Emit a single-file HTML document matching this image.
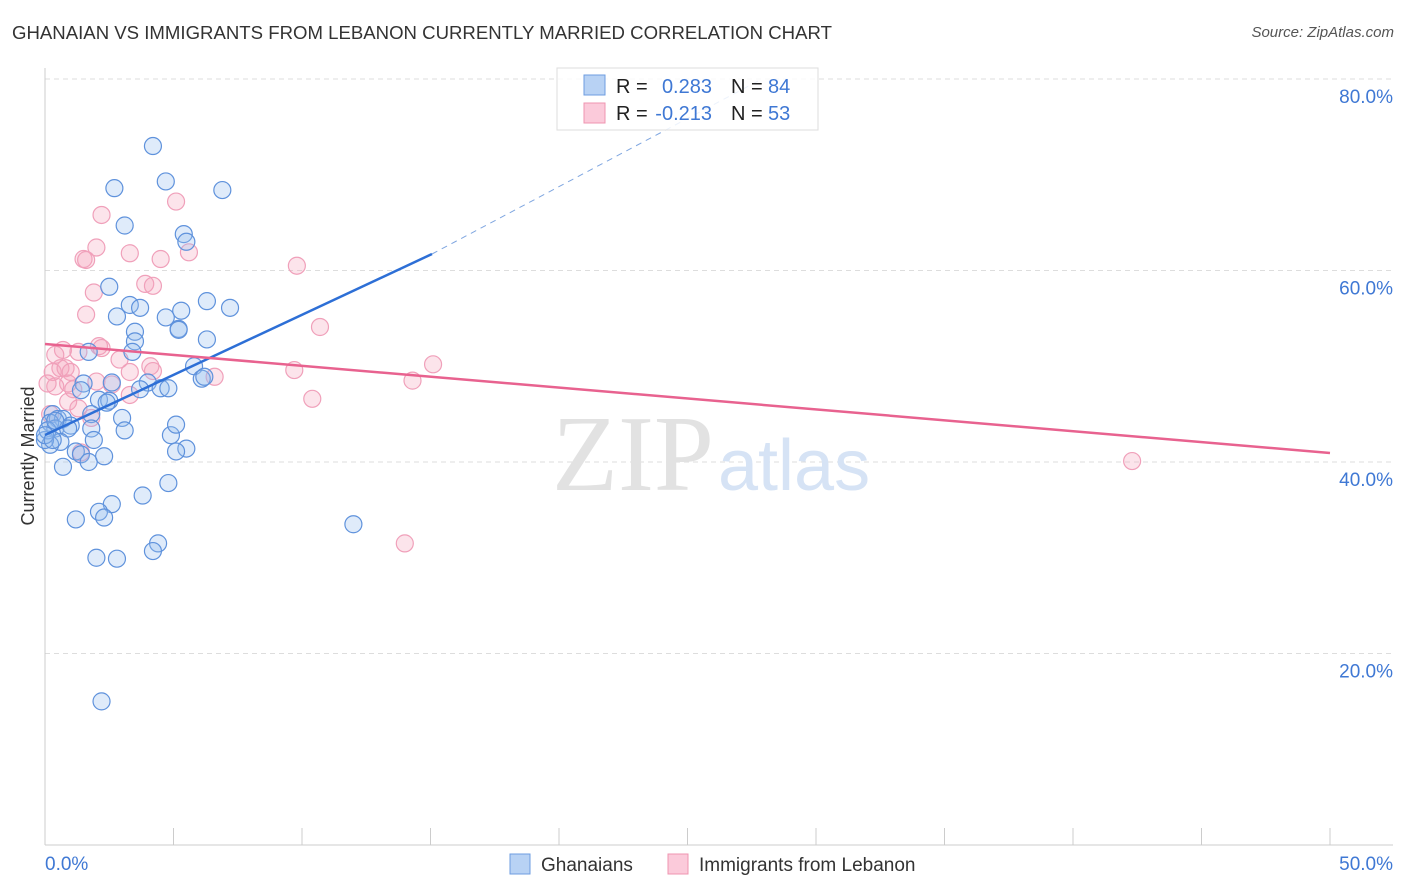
<!DOCTYPE html>
<html><head><meta charset="utf-8"><style>
body{margin:0;background:#fff;font-family:"Liberation Sans",sans-serif}
#wrap{position:relative;width:1406px;height:892px;overflow:hidden}
.t{position:absolute;white-space:nowrap}
</style></head><body>
<div id="wrap">
<div class="t" style="left:12px;top:22px;font-size:18.6px;color:#333">GHANAIAN VS IMMIGRANTS FROM LEBANON CURRENTLY MARRIED CORRELATION CHART</div>
<div class="t" style="right:12px;top:24px;font-size:15px;color:#555;font-style:italic">Source: ZipAtlas.com</div>
<svg id="svg" width="1406" height="892" style="position:absolute;left:0;top:0"></svg>
</div>
<script>
const xTicks=[0,5,10,15,20,25,30,35,40,45,50];
const yGrid=[20,40,60,80];
const yLabels=["20.0%","40.0%","60.0%","80.0%"];
const ghX=[4.2,4.7,2.7,6.9,3.1,5.4,5.5,2.5,3.3,6.3,7.2,2.8,3.7,5.3,4.7,5.2,3.5,5.2,6.3,3.5,3.4,1.7,5.8,6.1,6.2,4.0,3.7,4.5,4.8,1.5,2.6,1.4,2.1,2.5,2.4,1.8,3.0,0.3,0.5,0.7,0.2,0.4,1.0,0.9,1.8,3.1,4.9,5.1,1.9,0.6,0.2,1.2,1.4,2.3,5.5,5.1,1.7,0.7,0.0,0.1,4.8,3.8,2.6,2.1,2.3,1.2,12.0,4.4,4.2,2.0,2.8,2.2,0.0,0.3,0.4];
const ghY=[73.0,69.3,68.6,68.4,64.7,63.8,63.0,58.3,56.4,56.8,56.1,55.2,56.1,55.8,55.1,53.9,53.6,53.8,52.8,52.6,51.5,51.5,50.0,48.7,48.9,48.3,47.6,47.7,47.7,48.2,48.3,47.5,46.5,46.4,46.2,45.0,44.6,45.0,44.5,44.5,44.1,43.5,43.8,43.5,43.5,43.3,42.8,43.9,42.3,42.1,41.8,41.1,40.8,40.6,41.4,41.1,40.0,39.5,42.3,43.3,37.8,36.5,35.6,34.8,34.2,34.0,33.5,31.5,30.7,30.0,29.9,15.0,42.8,42.3,44.3];
const lbX=[5.1,2.2,2.0,3.3,4.5,5.6,1.5,1.6,9.8,3.9,4.2,1.9,1.6,10.7,0.7,0.4,1.3,2.1,2.2,2.9,4.1,4.2,0.6,0.3,0.8,1.0,3.3,9.7,15.1,6.6,14.3,2.0,2.6,0.9,0.4,1.1,10.4,0.9,1.3,1.8,0.2,0.1,42.3,14.0,1.4,3.3];
const lbY=[67.2,65.8,62.4,61.8,61.2,61.9,61.2,61.1,60.5,58.6,58.4,57.7,55.4,54.1,51.7,51.2,51.5,52.1,51.9,50.7,50.0,49.5,49.8,49.4,49.8,49.4,49.4,49.6,50.2,48.9,48.5,48.4,48.1,48.2,47.9,47.6,46.6,46.3,45.6,44.6,45.0,48.2,40.1,31.5,41.0,47.0];
const X=v=>45+v/50*1285, Y=v=>845-v/20*191.5;
const svg=document.getElementById('svg');const NS='http://www.w3.org/2000/svg';
function mk(tag,attrs,name,parent){const e=document.createElementNS(NS,tag);for(const k in attrs)e.setAttribute(k,attrs[k]);


(parent||svg).appendChild(e);return e;}
yGrid.forEach((g,i)=>{mk('line',{x1:45,x2:1393,y1:Y(g),y2:Y(g),stroke:'#ddd','stroke-dasharray':'5,4'},'grid-line');
const t=mk('text',{x:1393,y:Y(g)+24,'text-anchor':'end','font-size':19,fill:'#3f78d4','font-family':'Liberation Sans'},'y-tick-label');t.textContent=yLabels[i];});
mk('line',{x1:45,x2:45,y1:68,y2:845,stroke:'#ccc'},'y-axis-line');
mk('line',{x1:45,x2:1393,y1:845,y2:845,stroke:'#ccc'},'x-axis-line');
xTicks.forEach(v=>mk('line',{x1:X(v),x2:X(v),y1:828,y2:845,stroke:'#ccc'},'x-tick'));
let t=mk('text',{x:45,y:870,'font-size':19,fill:'#3f78d4','font-family':'Liberation Sans'},'x-min-label');t.textContent='0.0%';
t=mk('text',{x:1393,y:870,'text-anchor':'end','font-size':19,fill:'#3f78d4','font-family':'Liberation Sans'},'x-max-label');t.textContent='50.0%';
t=mk('text',{x:34,y:456,'text-anchor':'middle','font-size':18,fill:'#333','font-family':'Liberation Sans',transform:'rotate(-90 34 456)'},'y-axis-title');t.textContent='Currently Married';
t=mk('text',{x:552,y:490,'font-size':108,fill:'#e2e2e2','font-family':'Liberation Serif'},'watermark-zip');t.textContent='ZIP';
t=mk('text',{x:718,y:490,'font-size':72,fill:'#d6e3f5','font-family':'Liberation Sans'},'watermark-atlas');t.textContent='atlas';
lbX.forEach((v,i)=>mk('circle',{cx:X(v),cy:Y(lbY[i]),r:8.5,fill:'rgba(244,165,190,0.3)',stroke:'#f0a0ba','stroke-width':1.2},'lebanon-point'));
ghX.forEach((v,i)=>mk('circle',{cx:X(v),cy:Y(ghY[i]),r:8.5,fill:'rgba(150,188,238,0.3)',stroke:'#5f92dc','stroke-width':1.2},'ghanaian-point'));
mk('line',{x1:45,y1:435,x2:432,y2:254,stroke:'#2d6fd6','stroke-width':2.5},'ghanaian-trend-line');
mk('line',{x1:432,y1:254,x2:760,y2:80,stroke:'#7fa6e0','stroke-width':1,'stroke-dasharray':'6,5'},'ghanaian-trend-extension');
mk('line',{x1:45,y1:344,x2:1330,y2:453,stroke:'#e8628f','stroke-width':2.5},'lebanon-trend-line');
mk('rect',{x:557,y:68,width:261,height:62,fill:'rgba(255,255,255,0.85)',stroke:'#ddd'},'legend-box');
mk('rect',{x:584,y:75,width:21,height:20,fill:'#b8d2f4',stroke:'#6e9ce0'},'legend-swatch-ghanaian');
mk('rect',{x:584,y:103,width:21,height:20,fill:'#fbcada',stroke:'#ef94b0'},'legend-swatch-lebanon');
const rows=[['R = ','0.283','84',93],['R = ','-0.213','53',120]];
rows.forEach((r,i)=>{let a=mk('text',{x:616,y:r[3],'font-size':20,fill:'#222','font-family':'Liberation Sans'},'legend-r-label');a.textContent=r[0];
a=mk('text',{x:712,y:r[3],'text-anchor':'end','font-size':20,fill:'#3f78d4','font-family':'Liberation Sans'},'legend-r-value');a.textContent=r[1];
a=mk('text',{x:731,y:r[3],'font-size':20,fill:'#222','font-family':'Liberation Sans'},'legend-n-label');a.textContent='N = ';
a=mk('text',{x:768,y:r[3],'font-size':20,fill:'#3f78d4','font-family':'Liberation Sans'},'legend-n-value');a.textContent=r[2];});
mk('rect',{x:510,y:854,width:20,height:20,fill:'#b8d2f4',stroke:'#6e9ce0'},'bottom-legend-swatch-ghanaian');
t=mk('text',{x:541,y:871,'font-size':19,fill:'#333','font-family':'Liberation Sans'},'bottom-legend-ghanaians');t.textContent='Ghanaians';
mk('rect',{x:668,y:854,width:20,height:20,fill:'#fbcada',stroke:'#ef94b0'},'bottom-legend-swatch-lebanon');
t=mk('text',{x:699,y:871,'font-size':19,fill:'#333','font-family':'Liberation Sans'},'bottom-legend-lebanon');t.textContent='Immigrants from Lebanon';
</script>
</body></html>
